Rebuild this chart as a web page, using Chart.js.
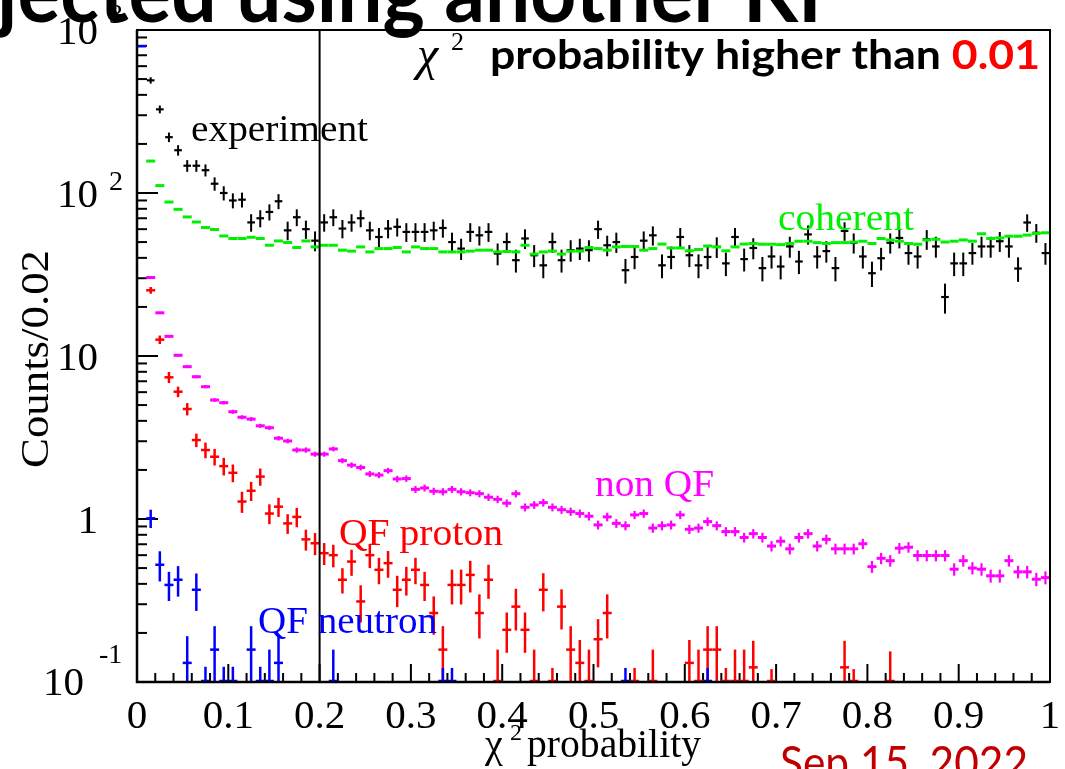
<!DOCTYPE html>
<html><head><meta charset="utf-8">
<script src="https://cdn.jsdelivr.net/npm/chart.js@4.4.0/dist/chart.umd.min.js"></script>
<style>html,body{margin:0;padding:0;background:#fff;overflow:hidden}#wrap{width:1065px;height:769px}canvas{display:block}</style>
</head><body><div id="wrap"><canvas id="c" width="1065" height="769"></canvas></div>
<script>
// ---- binning (x categories): 100 bins of width 0.01 on [0,1]
const binWidth = 0.01;
const nBins = 100;
const xTickLabels = ['0','0.1','0.2','0.3','0.4','0.5','0.6','0.7','0.8','0.9','1'];
const yTickValues = [0.1, 1, 10, 100, 1000];
const yTickLabels = [['10','-1'], ['1',''], ['10',''], ['10','2'], ['10','3']];

// ---- experiment (black)
const experiment = [null,491,326,220,183,147,147,138,114,100,
 90,91,66,70,76.5,89,59,71,60,51,
 66,71,60.5,66,70,59,53.7,60.5,62,57.7,
 57.7,57.7,59,61,50,45.6,57.7,55,57.7,42.5,
 50,38.7,52.6,41.5,36,50,38.7,44.6,45.6,44.6,
 60,47.8,50,33.6,40.5,51,55,36,40.5,53.7,
 41.5,36,40.5,46.7,37,53.7,39.3,46,34.6,40.8,
 35.4,47,38,55.7,40.8,44,34.6,58.5,49.5,40.8,
 32.2,39.8,49.5,53,42.8,40.8,52,47,23,37,
 37,42.8,47,47,50.6,47,34.4,65.9,57,42.8];
const experimentErr = [null,22,18,14.8,13.5,12.1,12.1,11.7,10.7,10,
 9.5,9.5,8.1,8.4,8.7,9.4,7.7,8.4,7.7,7.1,
 8.1,8.4,7.8,8.1,8.4,7.7,7.3,7.8,7.9,7.6,
 7.6,7.6,7.7,7.8,7.1,6.8,7.6,7.4,7.6,6.5,
 7.1,6.2,7.3,6.4,6,7.1,6.2,6.7,6.8,6.7,
 7.7,6.9,7.1,5.8,6.4,7.1,7.4,6,6.4,7.3,
 6.4,6,6.4,6.8,6.1,7.3,6.3,6.8,5.9,6.4,
 5.9,6.9,6.2,7.5,6.4,6.6,5.9,7.6,7,6.4,
 5.7,6.3,7,7.3,6.5,6.4,7.2,6.9,4.8,6.1,
 6.1,6.5,6.9,6.9,7.1,6.9,5.9,8.1,7.5,6.5];

// ---- coherent (green)
const coherent = [null,157,111,88,79.4,71.3,66.4,61.4,59.7,54.5,
 52.6,52.6,53.5,52.6,47.8,50.8,49.7,46.3,50.8,46.7,
 47.8,47.8,44.6,44,46.7,43.5,45.6,45.6,46.3,43.5,
 46.7,45.6,45.6,43.5,43.5,43.5,44,44.6,44.6,43.5,
 43.8,43.5,47.8,42.2,43.5,44,42.2,44,44,46.3,
 45.6,44.6,46.7,47,47,44.6,45.6,48.6,46,46,
 44.2,45,47.3,46.7,44.2,46.7,48.6,49,48.5,48.5,
 48.2,49,50.6,50.6,49.6,49,49.6,49.6,50,50.6,
 49,52.6,51.5,50.6,49,48.5,51.5,52,50,50.6,
 51.5,50.6,56.2,52.6,53,54.3,54.3,55.2,56.5,57];

// ---- non QF (magenta)
const nonQF = [null,30.3,18.4,13.2,10.1,8.6,7.46,6.48,5.37,5.17,
 4.55,4.21,4.1,3.73,3.63,3.13,3.01,2.65,2.65,2.5,
 2.5,2.69,2.28,2.14,2.07,1.89,1.86,1.98,1.76,1.77,
 1.52,1.55,1.48,1.47,1.52,1.47,1.45,1.43,1.36,1.32,
 1.25,1.43,1.18,1.22,1.26,1.18,1.14,1.11,1.08,1.04,
 0.92,1.03,0.94,0.91,1.06,1.08,0.88,0.91,0.92,1.06,
 0.865,0.88,0.964,0.91,0.837,0.837,0.77,0.813,0.77,0.682,
 0.73,0.656,0.77,0.813,0.682,0.75,0.656,0.656,0.656,0.705,
 0.51,0.574,0.555,0.662,0.671,0.597,0.597,0.597,0.597,0.492,
 0.555,0.5,0.492,0.448,0.448,0.555,0.474,0.474,0.427,0.437];
const nonQFErr = [null,0.3,0.25,0.2,0.18,0.17,0.16,0.15,0.14,0.13,
 0.13,0.12,0.12,0.11,0.11,0.1,0.1,0.1,0.1,0.09,
 0.09,0.09,0.085,0.085,0.085,0.08,0.08,0.08,0.08,0.08,
 0.075,0.075,0.075,0.075,0.075,0.075,0.072,0.072,0.07,0.07,
 0.068,0.072,0.066,0.066,0.068,0.066,0.065,0.064,0.063,0.062,
 0.058,0.062,0.058,0.058,0.062,0.063,0.057,0.058,0.058,0.062,
 0.056,0.057,0.059,0.058,0.055,0.055,0.053,0.054,0.053,0.05,
 0.052,0.05,0.053,0.054,0.05,0.052,0.05,0.05,0.05,0.051,
 0.043,0.046,0.045,0.05,0.05,0.047,0.047,0.047,0.047,0.043,
 0.045,0.043,0.043,0.041,0.041,0.045,0.042,0.042,0.04,0.04];

// ---- QF proton (red)
const qfProton = [null,25.3,12.6,7.4,6.04,4.73,3.05,2.65,2.41,2.11,
 1.92,1.28,1.49,1.82,1.08,1.19,0.94,1.03,0.75,0.71,
 0.617,0.6,0.424,0.548,0.312,0.6,0.488,0.536,0.368,0.424,
 0.488,0.394,0.265,0.158,0.394,0.394,0.454,0.265,0.424,0.079,
 0.209,0.29,0.209,0.079,0.368,0.061,0.29,0.158,0.131,0.079,
 0.183,0.265,null,null,0.061,null,0.079,null,null,null,
 0.131,0.079,0.158,0.158,0.061,0.079,0.079,0.123,null,0.06,
 null,null,null,null,null,null,null,0.123,0.06,null,
 null,null,0.077,null,null,null,null,null,null,null,
 null,null,null,null,null,null,null,null,null,null];
const qfProtonErr = [null,1.2,0.75,0.58,0.45,0.41,0.29,0.29,0.28,0.26,
 0.24,0.19,0.2,0.22,0.15,0.16,0.13,0.14,0.11,0.11,
 0.095,0.095,0.075,0.1,0.08,0.1,0.09,0.1,0.08,0.085,
 0.09,0.08,0.07,0.062,0.095,0.095,0.1,0.08,0.1,0.079,
 0.058,0.083,0.058,0.079,0.097,0.061,0.08,0.062,0.05,0.079,
 0.06,0.08,null,null,0.061,null,0.079,null,null,null,
 0.05,0.079,0.062,0.062,0.061,0.079,0.079,0.056,null,0.06,
 null,null,null,null,null,null,null,0.056,0.06,null,
 null,null,0.077,null,null,null,null,null,null,null,
 null,null,null,null,null,null,null,null,null,null];

// ---- QF neutron (blue)
const qfNeutron = [795,1.01,0.524,0.394,0.424,0.131,0.368,0.062,0.158,0.062,
 0.062,null,0.158,0.062,0.079,0.131,null,null,null,null,
 null,0.079,null,null,null,null,null,null,null,null,
 null,null,null,0.061,0.061,null,null,null,null,null,
 null,null,null,null,null,null,null,null,null,null,
 null,null,null,0.061,null,null,null,null,null,null,
 null,null,0.061,null,null,null,null,null,null,null,
 null,null,null,null,null,null,null,null,null,null,
 null,null,null,null,null,null,null,null,null,null,
 null,null,null,null,null,null,null,null,null,null];
const qfNeutronErr = [0,0.13,0.11,0.08,0.09,0.06,0.095,0.062,0.062,0.062,
 0.062,null,0.062,0.062,0.079,0.06,null,null,null,null,
 null,0.079,null,null,null,null,null,null,null,null,
 null,null,null,0.061,0.061,null,null,null,null,null,
 null,null,null,null,null,null,null,null,null,null,
 null,null,null,0.061,null,null,null,null,null,null,
 null,null,0.061,null,null,null,null,null,null,null,
 null,null,null,null,null,null,null,null,null,null,
 null,null,null,null,null,null,null,null,null,null,
 null,null,null,null,null,null,null,null,null,null];

const cutValue = 0.2;

function toPoints(vals, errs) {
  const pts = [];
  for (let i = 0; i < nBins; i++) {
    if (vals[i] == null) continue;
    pts.push({ x: (i + 0.5) * binWidth, y: vals[i], e: errs ? (errs[i] || 0) : 0 });
  }
  return pts;
}

function ds(label, vals, errs, color, radius, dashW, errW) {
  return {
    label, data: toPoints(vals, errs), showLine: false,
    pointStyle: 'line', pointRadius: radius, pointHoverRadius: radius,
    pointBorderWidth: dashW, pointBorderColor: color, pointBackgroundColor: color,
    errColor: color, errWidth: errW
  };
}

function fitText(ctx, text, x, y, w, font, color) {
  ctx.save();
  ctx.font = font;
  const m = ctx.measureText(text).width;
  ctx.translate(x, y);
  ctx.scale(w / m, 1);
  ctx.fillStyle = color;
  ctx.textAlign = 'left';
  ctx.textBaseline = 'alphabetic';
  ctx.fillText(text, 0, 0);
  ctx.restore();
}

const SERIF = '"Liberation Serif", "Times New Roman", serif';
const GREEN = '#00f000';

const rootPlugin = {
  id: 'rootStyle',
  beforeDraw(chart) {
    const ctx = chart.ctx;
    ctx.save(); ctx.fillStyle = '#fff'; ctx.fillRect(0, 0, chart.width, chart.height);
    // partial slide title at top (behind the plot)
    ctx.font = 'bold 84px Lato, "Open Sans", sans-serif';
    const pref = 'jected using another K';
    const sc = 801 / ctx.measureText(pref).width;
    ctx.translate(-3, 22); ctx.scale(sc, 1);
    ctx.fillStyle = '#000'; ctx.textAlign = 'left';
    ctx.fillText('jected using another KF', 0, 0);
    ctx.restore();
  },
  beforeDatasetsDraw(chart) {
    const ctx = chart.ctx, a = chart.chartArea, xs = chart.scales.x, ys = chart.scales.y;
    ctx.save();
    ctx.strokeStyle = '#000'; ctx.lineWidth = 2;
    for (let k = 0; k <= 50; k++) {
      const px = xs.getPixelForValue(k / 50);
      const len = (k % 5 === 0) ? 18 : 9;
      ctx.beginPath(); ctx.moveTo(px, a.bottom); ctx.lineTo(px, a.bottom - len); ctx.stroke();
    }
    for (let d = -1; d <= 2; d++) {
      for (let m = 1; m <= 9; m++) {
        const py = ys.getPixelForValue(m * Math.pow(10, d));
        const len = m === 1 ? 21 : 10;
        ctx.beginPath(); ctx.moveTo(a.left, py); ctx.lineTo(a.left + len, py); ctx.stroke();
      }
    }
    ctx.restore();
  },
  afterDatasetDraw(chart, args) {
    const d = chart.data.datasets[args.index];
    const meta = args.meta;
    const ctx = chart.ctx, a = chart.chartArea, ys = chart.scales.y;
    ctx.save();
    ctx.beginPath(); ctx.rect(a.left, a.top, a.right - a.left, a.bottom - a.top); ctx.clip();
    ctx.strokeStyle = d.errColor; ctx.lineWidth = d.errWidth; ctx.lineCap = 'butt';
    d.data.forEach((p, j) => {
      const x = meta.data[j].x;
      if (p.e) {
        const top = Math.max(a.top, ys.getPixelForValue(p.y + p.e));
        const lo = p.y - p.e;
        const bot = lo > 0 ? Math.min(a.bottom, ys.getPixelForValue(lo)) : a.bottom;
        if (bot > top) { ctx.beginPath(); ctx.moveTo(x, top); ctx.lineTo(x, bot); ctx.stroke(); }
      }
      if (p.y < ys.min) {
        ctx.save(); ctx.lineWidth = d.pointBorderWidth;
        ctx.beginPath(); ctx.moveTo(x - d.pointRadius, a.bottom - 1); ctx.lineTo(x + d.pointRadius, a.bottom - 1); ctx.stroke();
        ctx.restore();
      }
    });
    ctx.restore();
  },
  afterDraw(chart) {
    const ctx = chart.ctx, a = chart.chartArea, xs = chart.scales.x, ys = chart.scales.y;
    ctx.save();
    // cut line
    const xc = xs.getPixelForValue(cutValue);
    ctx.strokeStyle = '#000'; ctx.lineWidth = 2;
    ctx.beginPath(); ctx.moveTo(xc, a.top); ctx.lineTo(xc, a.bottom); ctx.stroke();
    // frame
    ctx.lineWidth = 2;
    ctx.strokeRect(a.left, a.top, a.right - a.left, a.bottom - a.top);
    ctx.lineWidth = 2.5;
    ctx.beginPath(); ctx.moveTo(a.left, a.top); ctx.lineTo(a.left, a.bottom); ctx.lineTo(a.right, a.bottom); ctx.stroke();

    // x tick labels
    ctx.fillStyle = '#000';
    ctx.font = '41px ' + SERIF;
    ctx.textAlign = 'center'; ctx.textBaseline = 'alphabetic';
    xTickLabels.forEach((t, i) => {
      ctx.fillText(t, xs.getPixelForValue(i / 10), 728);
    });
    // y tick labels
    yTickValues.forEach((v, i) => {
      const py = ys.getPixelForValue(v);
      const [base, ex] = yTickLabels[i];
      ctx.font = '41px ' + SERIF;
      ctx.textAlign = 'right';
      if (ex === '') {
        ctx.fillText(base, 98, py + 14);
      } else if (ex === '-1') {
        ctx.fillText(base, 84, py + 13);
        ctx.font = '28px ' + SERIF;
        ctx.textAlign = 'left';
        ctx.fillText(ex, 99, py - 19);
      } else {
        ctx.fillText(base, 98, py + 14);
        ctx.font = '28px ' + SERIF;
        ctx.textAlign = 'left';
        ctx.fillText(ex, 109, py - (v === 1000 ? 7 : 3));
      }
    });

    // axis titles
    ctx.save();
    ctx.translate(48, 359); ctx.rotate(-Math.PI / 2);
    ctx.font = '40px ' + SERIF;
    const yt = 'Counts/0.02'; const ym = ctx.measureText(yt).width;
    ctx.scale(218 / ym, 1);
    ctx.textAlign = 'center'; ctx.fillStyle = '#000';
    ctx.fillText(yt, 0, 0);
    ctx.restore();

    ctx.font = '40px ' + SERIF;
    ctx.textAlign = 'left'; ctx.fillStyle = '#000';
    ctx.fillText('\u03c7', 485, 757);
    ctx.font = '24px ' + SERIF;
    ctx.fillText('2', 510, 740);
    fitText(ctx, 'probability', 527, 757, 174, '40px ' + SERIF, '#000');

    // series labels
    const serif = '38px ' + SERIF;
    fitText(ctx, 'experiment', 191, 141, 177, serif, '#000');
    fitText(ctx, 'coherent', 778, 230, 136, serif, GREEN);
    fitText(ctx, 'non QF', 595, 496, 119, serif, '#ff00ff');
    fitText(ctx, 'QF proton', 339, 545, 164, serif, '#ff0000');
    fitText(ctx, 'QF neutron', 258, 633, 179, serif, '#0000ff');

    // chi2 cut annotation
    ctx.fillStyle = '#000';
    ctx.font = 'italic 48px "Liberation Serif", "DejaVu Serif", serif';
    ctx.textAlign = 'left';
    ctx.fillText('\u03c7', 417, 70);
    ctx.font = '26px ' + SERIF;
    ctx.fillText('2', 451, 50);
    ctx.save();
    ctx.font = 'bold 41px Lato, "Open Sans", sans-serif';
    const part1 = 'probability higher than ', part2 = '0.01';
    const s2 = 550 / ctx.measureText(part1 + part2).width;
    const w1 = ctx.measureText(part1).width;
    ctx.translate(490, 69); ctx.scale(s2, 1);
    ctx.fillStyle = '#000'; ctx.fillText(part1, 0, 0);
    ctx.fillStyle = '#ff0000'; ctx.fillText(part2, w1, 0);
    ctx.restore();

    // date
    fitText(ctx, 'Sep 15, 2022', 780, 779, 248, '46px Lato, "Open Sans", sans-serif', '#c00000');
    ctx.restore();
  }
};

const chart = new Chart(document.getElementById('c'), {
  type: 'scatter',
  data: {
    datasets: [
      ds('QF neutron', qfNeutron, qfNeutronErr, '#0000ff', 4.5, 2.5, 2.5),
      ds('QF proton', qfProton, qfProtonErr, '#ff0000', 4.5, 2.5, 2.5),
      ds('non QF', nonQF, nonQFErr, '#ff00ff', 4.5, 3, 2.2),
      ds('coherent', coherent, null, GREEN, 4.5, 3, 2),
      ds('experiment', experiment, experimentErr, '#000000', 3.8, 2.2, 2)
    ]
  },
  options: {
    responsive: false, animation: false, events: [], devicePixelRatio: 1,
    layout: { padding: { left: 137, right: 15, top: 30, bottom: 87 } },
    plugins: { legend: { display: false }, tooltip: { enabled: false } },
    scales: {
      x: { type: 'linear', min: 0, max: 1, display: false },
      y: { type: 'logarithmic', min: 0.1, max: 1000, display: false }
    }
  },
  plugins: [rootPlugin]
});
</script></body></html>
